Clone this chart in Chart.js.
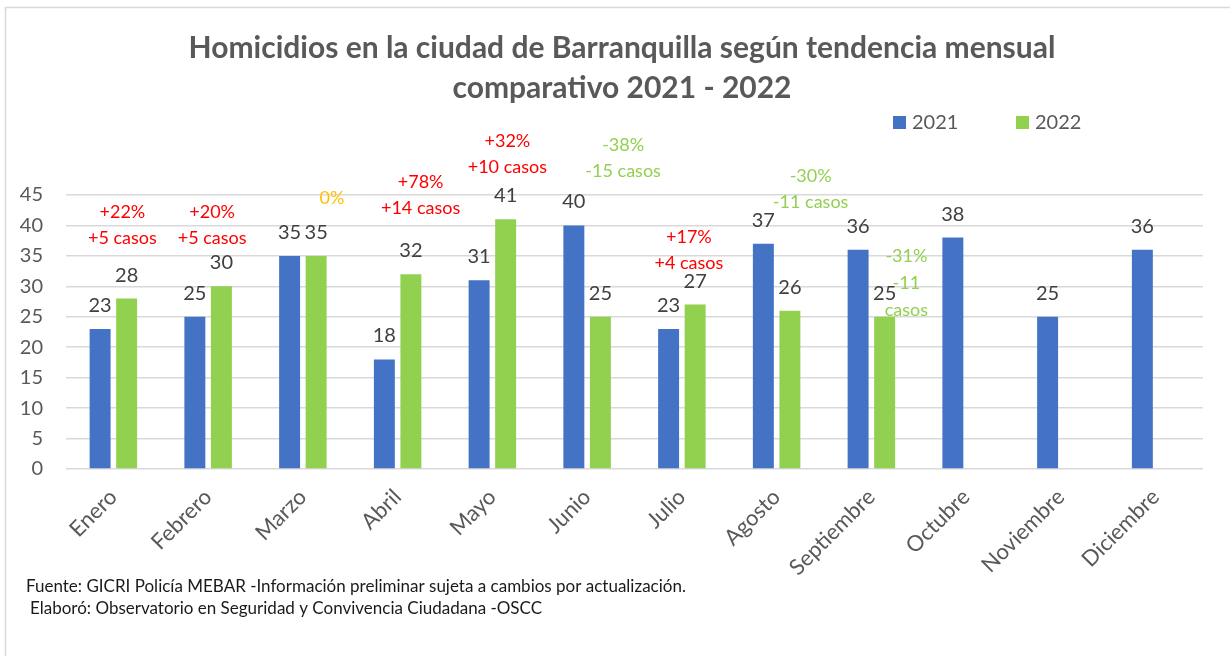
<!DOCTYPE html>
<html>
<head>
<meta charset="utf-8">
<script src="https://cdn.jsdelivr.net/npm/chart.js@4.4.1/dist/chart.umd.min.js"></script>
<style>
  html, body { margin: 0; padding: 0; background: #fff; }
</style>
</head>
<body>
<canvas id="barChart" width="1230" height="656"></canvas>
<script>
var months = ["Enero", "Febrero", "Marzo", "Abril", "Mayo", "Junio", "Julio", "Agosto", "Septiembre", "Octubre", "Noviembre", "Diciembre"];
var values2021 = [23, 25, 35, 18, 31, 40, 23, 37, 36, 38, 25, 36];
var values2022 = [28, 30, 35, 32, 41, 25, 27, 26, 25, null, null, null];
var yTicks = [0, 5, 10, 15, 20, 25, 30, 35, 40, 45];
var changePct = ["+22%", "+20%", "0%", "+78%", "+32%", "-38%", "+17%", "-30%", "-31%", "", "", ""];
var changeCases = ["+5 casos", "+5 casos", "", "+14 casos", "+10 casos", "-15 casos", "+4 casos", "-11 casos", "-11 casos", "", "", ""];
var titleLines = ["Homicidios en la ciudad de Barranquilla según tendencia mensual", "comparativo 2021 - 2022"];
var sourceNote = "Fuente: GICRI Policía MEBAR -Información preliminar sujeta a cambios por actualización.";
var authorNote = "Elaboró: Observatorio en Seguridad y Convivencia Ciudadana -OSCC";

// where each change note sits: dx in px from the category centre, y in axis units
var notePos = [
    { dx: 9, y: 42.1, gap: 26 },
    { dx: 4, y: 42.2, gap: 26 },
    { dx: 29, y: 44.5, gap: 26 },
    { dx: 23, y: 47.1, gap: 26 },
    { dx: 15, y: 53.8, gap: 26 },
    { dx: 36, y: 53.2, gap: 26 },
    { dx: 7, y: 38.0, gap: 26 },
    { dx: 34, y: 48.1, gap: 26 },
    { dx: 35, y: 35.0, gap: 27, wrap: true }
];

var notesPlugin = {
    id: "notes",
    beforeDraw: function (chart) {
        var ctx = chart.ctx;
        ctx.save();
        ctx.fillStyle = "#fff";
        ctx.fillRect(0, 0, chart.width, chart.height);
        ctx.strokeStyle = "#d9d9d9";
        ctx.lineWidth = 1.5;
        ctx.strokeRect(5.5, 7.5, chart.width + 20, chart.height + 20);

        // title
        ctx.fillStyle = "#595959";
        ctx.font = "bold 30px Lato";
        ctx.textAlign = "center";
        ctx.textBaseline = "middle";
        titleLines.forEach(function (t, k) {
            ctx.fillText(t, 622, 48 + k * 40);
        });
        ctx.restore();
    },
    afterDatasetsDraw: function (chart) {
        var ctx = chart.ctx;
        var xs = chart.scales.x, ys = chart.scales.y;
        ctx.save();

        // value labels over bars
        ctx.font = "20px Lato";
        ctx.fillStyle = "#404040";
        ctx.textAlign = "center";
        ctx.textBaseline = "alphabetic";
        chart.data.datasets.forEach(function (ds, i) {
            chart.getDatasetMeta(i).data.forEach(function (bar, j) {
                if (ds.data[j] == null) return;
                ctx.fillText(String(ds.data[j]), bar.x, bar.y - 17);
            });
        });

        // change notes
        ctx.font = "18px Lato";
        ctx.textBaseline = "middle";
        changePct.forEach(function (pct, j) {
            if (!pct) return;
            var p = notePos[j];
            var lines = [pct];
            if (changeCases[j]) {
                lines = lines.concat(p.wrap ? changeCases[j].split(" ") : [changeCases[j]]);
            }
            ctx.fillStyle = pct[0] === "+" ? "#ff0000" : (pct[0] === "-" ? "#92d050" : "#ffc000");
            var x = xs.getPixelForValue(j) + p.dx;
            var y = ys.getPixelForValue(p.y);
            lines.forEach(function (t, k) {
                ctx.fillText(t, x, y + k * p.gap);
            });
        });

        // legend
        var lx = [893, 1016];
        ctx.font = "20px Lato";
        ctx.textAlign = "left";
        chart.data.datasets.forEach(function (ds, i) {
            ctx.fillStyle = ds.backgroundColor;
            ctx.fillRect(lx[i], 116, 13, 13);
            ctx.fillStyle = "#595959";
            ctx.fillText(ds.label, lx[i] + 19, 123);
        });

        // footer
        ctx.font = "17px Lato";
        ctx.fillStyle = "#1a1a1a";
        ctx.fillText(sourceNote, 26, 587);
        ctx.fillText(authorNote, 30, 609);
        ctx.restore();
    }
};

Chart.defaults.font.family = "Lato";

var ctx1 = document.getElementById("barChart").getContext("2d");
new Chart(ctx1, {
    type: "bar",
    data: {
        labels: months,
        datasets: [{
            label: "2021",
            data: values2021,
            backgroundColor: "#4472c4"
        }, {
            label: "2022",
            data: values2022,
            backgroundColor: "#92d050"
        }]
    },
    options: {
        responsive: false,
        animation: false,
        devicePixelRatio: 1,
        categoryPercentage: 0.56,
        barPercentage: 0.79,
        layout: { padding: { left: 14, right: 27, top: 195, bottom: 0 } },
        plugins: {
            legend: { display: false },
            tooltip: { enabled: false },
            title: { display: false }
        },
        scales: {
            x: {
                grid: { display: false, drawTicks: false },
                border: { display: false },
                ticks: {
                    color: "#595959",
                    font: { size: 22 },
                    maxRotation: 45,
                    minRotation: 45,
                    autoSkip: false,
                    padding: 15
                },
                afterFit: function (s) { s.height = 187; }
            },
            y: {
                min: 0,
                max: 45,
                afterBuildTicks: function (s) {
                    s.ticks = yTicks.map(function (v) { return { value: v }; });
                },
                grid: { color: "#d9d9d9", lineWidth: 1.5, drawTicks: false },
                border: { display: false },
                ticks: { color: "#595959", font: { size: 20 }, padding: 23 },
                afterFit: function (s) { s.width = 52; }
            }
        }
    },
    plugins: [notesPlugin]
});
</script>
</body>
</html>
